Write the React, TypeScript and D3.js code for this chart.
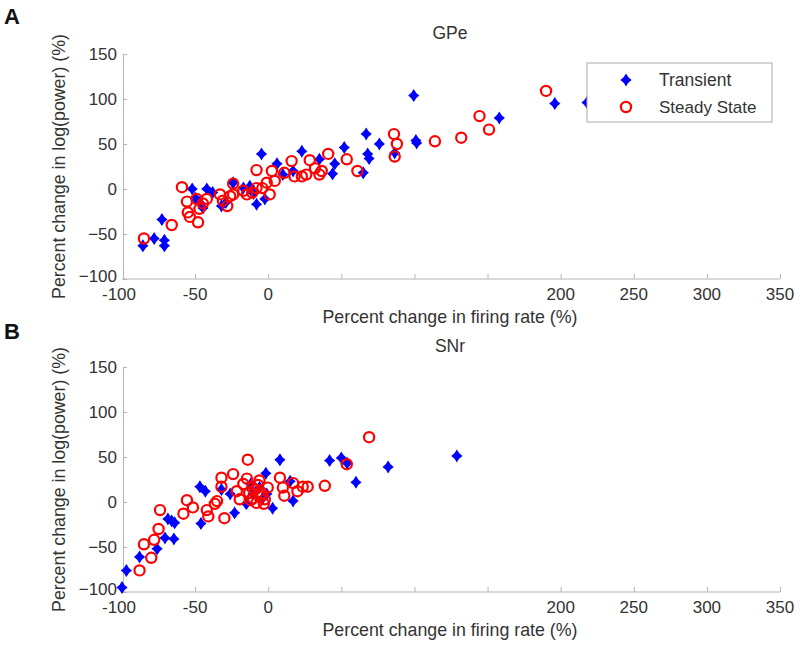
import { useEffect, useRef } from "react";
import * as d3 from "d3";

// tick values and labels (the 50/100/150 labels are absent in the figure)
const xTicks = [-50, 0, 50, 100, 150, 200, 250, 300, 350];
const xTickLabels = [-100, -50, 0, 200, 250, 300, 350];
const yTicks = [-100, -50, 0, 50, 100, 150];

// GPe, transient response [firing rate change, log(power) change]
const gpeTransient: [number, number][] = [
  [-85.7, -63], [-78, -55], [-72.7, -34], [-71, -57], [-71, -63], [-52, 0], [-50, -10],
  [-44.6, -21], [-42, 0], [-47, -15], [-38, -4], [-32, -19], [-24, 7], [-17, 1], [-12.6, 3],
  [-8, -17], [-4.6, 39], [-2.3, -11], [6, 28], [10, 16], [17, 20], [23, 42], [35, 33],
  [44, 17], [45.5, 28], [52, 46], [67, 61], [68, 39], [69, 34], [76, 50], [65, 18], [86.5, 40],
  [99.5, 104], [101.5, 51], [101, 54], [196, 95], [158, 79], [218, 96], [-29, -15], [-10, -5],
];

// GPe, steady state response
const gpeSteady: [number, number][] = [
  [-85, -55], [-66, -40], [-59, 2], [-55.6, -14], [-55, -26], [-53.6, -31], [-48, -37],
  [-49, -11], [-44.7, -16], [-42, -11], [-47, -22], [-33, -6], [-31, -13], [-28, -19],
  [-26, -8], [-24, -6], [-24, 6], [-17, -2], [-14.6, -6], [-11, -4], [-8, 21], [-8, 1],
  [-4, 1], [-1, 7], [1, -6], [2.5, 20], [4.5, 9], [11, 18], [16, 31], [18, 14], [23, 14],
  [26, 16], [28.4, 32], [32, 23], [35, 16], [36.6, 20], [41, 39], [53.7, 33], [61, 20],
  [86, 61], [88, 50], [86.5, 36], [114, 53], [132, 57], [144.5, 81], [151, 66], [190, 109],
];

// SNr, transient response
const snrTransient: [number, number][] = [
  [-100, -95], [-97, -76], [-88, -61], [-76, -52], [-70.6, -40], [-68.6, -19], [-66, -21],
  [-64, -23], [-64.5, -41], [-46.7, 17], [-43, 12], [-46, -24], [-32, 14], [-26, 9],
  [-23, -12], [-15, -2], [-10.5, 9], [-6, 16], [-1.6, 32], [-1, 9], [3, -7], [8, 47],
  [15, 23], [17, 1], [42, 46], [50, 49], [54, 43], [60, 22], [82, 39], [129, 51],
  [-12, 20], [-4, 4],
];

// SNr, steady state response
const snrSteady: [number, number][] = [
  [-88, -76], [-80, -62], [-85, -47], [-78, -42], [-75, -30], [-74, -9], [-58, -13],
  [-55.6, 2], [-51.5, -6], [-42, -9], [-41, -16], [-36.5, -2], [-35, 1], [-32, 27],
  [-32, 17], [-30, -18], [-24, 31], [-21.5, 12], [-19.5, 3], [-17, 20], [-14, 47],
  [-14.6, 26], [-11, 16], [-10.5, 4], [-8, -1], [-6, 24], [-4.4, 10], [-2.3, 3], [-0.3, 16],
  [8, 27], [10, 16], [11, 7], [17, 21], [20, 12], [23.6, 17], [27, 17], [38.7, 18],
  [53.7, 42], [69, 72], [-13, 10], [-9, 14], [-5, 6], [-12, 2], [-7, 19], [-3, -2],
];

const panels = [
  { letter: "A", title: "GPe", top: 54, transient: gpeTransient, steady: gpeSteady, legend: true },
  { letter: "B", title: "SNr", top: 367, transient: snrTransient, steady: snrSteady, legend: false },
];

const FONT = "'Liberation Sans', Arial, sans-serif";
const diamond = "M0,-6.5 Q2.1,-2.1 5.6,0 Q2.1,2.1 0,6.5 Q-2.1,2.1 -5.6,0 Q-2.1,-2.1 0,-6.5Z";

const Chart = () => {
  const ref = useRef<HTMLDivElement>(null);

  useEffect(() => {
    const width = 800;
    const height = 648;
    d3.select(ref.current).selectAll("*").remove();
    const svg = d3
      .select(ref.current)
      .append("svg")
      .attr("width", width)
      .attr("height", height)
      .style("font-family", FONT);

    const x = d3.scaleLinear().domain([-100, 350]).range([122, 780]);

    panels.forEach((p, i) => {
      const bottom = p.top + 225;
      const y = d3.scaleLinear().domain([-100, 150]).range([bottom, p.top]);
      const g = svg.append("g");

      // x axis, ticks point inward
      const xAxis = d3
        .axisBottom(x)
        .tickValues(xTicks)
        .tickSizeInner(-5)
        .tickSizeOuter(0)
        .tickFormat(() => "");
      const xg = g.append("g").attr("transform", `translate(0,${bottom})`).call(xAxis);
      xg.select(".domain").attr("stroke", "#b4b4b4").attr("d", `M122,0H780`);
      xg.selectAll(".tick line").attr("stroke", "#b4b4b4");
      xg.selectAll(".tick text").remove();
      g.append("g")
        .selectAll("text")
        .data(xTickLabels)
        .join("text")
        .attr("x", (d) => x(d) - (d === -100 ? 3 : 0))
        .attr("y", bottom + (d3.min(xTickLabels) === -100 ? 21 : 20))
        .attr("text-anchor", "middle")
        .attr("font-size", 17)
        .attr("fill", "#333")
        .text((d) => d);

      // y axis
      const yAxis = d3.axisLeft(y).tickValues(yTicks).tickSizeInner(-4).tickSizeOuter(0).tickPadding(6);
      const yg = g.append("g").attr("transform", `translate(123,0)`).call(yAxis);
      yg.select(".domain").attr("stroke", "#b4b4b4");
      yg.selectAll(".tick line").attr("stroke", "#b4b4b4");
      yg.selectAll(".tick text")
        .attr("font-size", 17)
        .attr("fill", "#333")
        .attr("font-family", FONT)
        .attr("y", (d) => (d === -100 ? -3 : 0));

      // titles and labels
      g.append("text")
        .attr("x", 4)
        .attr("y", i === 0 ? 24 : 339)
        .attr("font-size", 22)
        .attr("font-weight", "bold")
        .attr("fill", "#111")
        .text(p.letter);
      g.append("text")
        .attr("x", 450)
        .attr("y", p.top - 15)
        .attr("text-anchor", "middle")
        .attr("font-size", 17.5)
        .attr("fill", "#333")
        .text(p.title);
      g.append("text")
        .attr("x", 450)
        .attr("y", bottom + 44)
        .attr("text-anchor", "middle")
        .attr("font-size", 17.8)
        .attr("fill", "#333")
        .text("Percent change in firing rate (%)");
      g.append("text")
        .attr("transform", `translate(65,${(p.top + bottom) / 2}) rotate(-90)`)
        .attr("text-anchor", "middle")
        .attr("font-size", 17.8)
        .attr("fill", "#333")
        .text("Percent change in log(power) (%)");

      // points
      g.append("g")
        .selectAll("path")
        .data(p.transient)
        .join("path")
        .attr("d", diamond)
        .attr("transform", (d) => `translate(${x(d[0])},${y(d[1])})`)
        .attr("fill", "#0000ff");
      g.append("g")
        .selectAll("circle")
        .data(p.steady)
        .join("circle")
        .attr("cx", (d) => x(d[0]))
        .attr("cy", (d) => y(d[1]))
        .attr("r", 5.1)
        .attr("fill", "none")
        .attr("stroke", "#ff0000")
        .attr("stroke-width", 2.2);

      // legend
      if (p.legend) {
        const lg = g.append("g").attr("transform", "translate(587,63)");
        lg.append("rect").attr("width", 185).attr("height", 59).attr("fill", "#fff").attr("stroke", "#aaa");
        lg.append("path").attr("d", diamond).attr("transform", "translate(39,17)").attr("fill", "#0000ff");
        lg.append("circle")
          .attr("cx", 39)
          .attr("cy", 44)
          .attr("r", 5.1)
          .attr("fill", "none")
          .attr("stroke", "#ff0000")
          .attr("stroke-width", 2.2);
        lg.append("text").attr("x", 72).attr("y", 23).attr("font-size", 17.5).attr("fill", "#333").text("Transient");
        lg.append("text").attr("x", 72).attr("y", 50).attr("font-size", 17).attr("fill", "#333").text("Steady State");
      }
    });
  }, []);

  return <div ref={ref} style={{ position: "absolute", left: 0, top: 0 }} />;
};

export default function App() {
  return <Chart />;
}
